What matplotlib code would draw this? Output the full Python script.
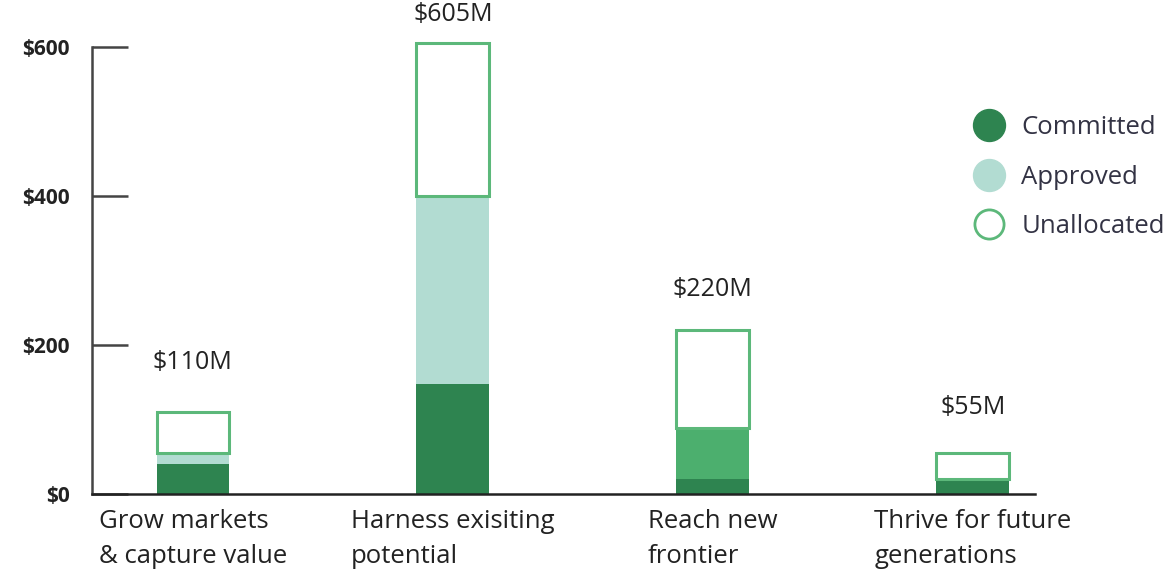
import matplotlib.pyplot as plt
from matplotlib.lines import Line2D

plt.rcParams['font.family'] = ['Open Sans', 'DejaVu Sans']

# values in $M
categories = ['Grow markets\n& capture value', 'Harness exisiting\npotential',
              'Reach new\nfrontier', 'Thrive for future\ngenerations']
committed = [40, 148, 20, 20]
approved = [15, 252, 68, 0]
totals = [110, 605, 220, 55]
total_labels = ['$110M', '$605M', '$220M', '$55M']
yticks = [0, 200, 400, 600]
ytick_labels = ['$0', '$200', '$400', '$600']

c_committed = '#2e8450'
c_approved = ['#b2dcd2', '#b2dcd2', '#4caf6e', '#b2dcd2']
c_edge = '#5cb87a'

fig = plt.figure(figsize=(11.71, 5.77), dpi=100)
ax = fig.add_axes([0.0786, 0.1438, 0.805, 0.827])

x = list(range(len(categories)))
w = 0.28
unalloc = [t - c - a for t, c, a in zip(totals, committed, approved)]
base2 = [c + a for c, a in zip(committed, approved)]

ax.bar(x, committed, width=w, color=c_committed, linewidth=0, zorder=2)
ax.bar(x, approved, width=w, bottom=committed, color=c_approved, linewidth=0, zorder=2)
ax.bar(x, unalloc, width=w, bottom=base2, facecolor='white', edgecolor=c_edge,
       linewidth=2.2, zorder=2)

pads = [50, 28, 40, 46]
for xi, t, lab, p in zip(x, totals, total_labels, pads):
    ax.annotate(lab, (xi, t), xytext=(0, p), textcoords='offset pixels',
                ha='center', va='center', fontsize=18, color='#222222')

ax.set_xlim(-0.388, 3.238)
ax.set_ylim(0, 640)
for s in ['top', 'right']:
    ax.spines[s].set_visible(False)
ax.spines['left'].set_bounds(0, 600)
ax.spines['left'].set_color('#444444')
ax.spines['left'].set_linewidth(1.8)
ax.spines['bottom'].set_color('#222222')
ax.spines['bottom'].set_linewidth(1.8)

ax.set_yticks(yticks)
ax.set_yticklabels(ytick_labels, fontsize=15, fontweight='bold', color='#222222')
ax.tick_params(axis='y', direction='in', length=26, width=1.8, color='#444444', pad=16)

ax.set_xticks(x)
ax.set_xticklabels(categories, fontsize=18.5, color='#222222', ha='center',
                   multialignment='left', linespacing=1.5)
ax.tick_params(axis='x', length=0, pad=11)

handles = [
    Line2D([], [], marker='o', linestyle='none', markersize=23,
           markerfacecolor=c_committed, markeredgecolor=c_committed),
    Line2D([], [], marker='o', linestyle='none', markersize=23,
           markerfacecolor='#b2dcd2', markeredgecolor='#b2dcd2'),
    Line2D([], [], marker='o', linestyle='none', markersize=21,
           markerfacecolor='white', markeredgecolor=c_edge, markeredgewidth=2),
]
fig.legend(handles, ['Committed', 'Approved', 'Unallocated'], loc='upper left',
           bbox_to_anchor=(0.803, 0.84), frameon=False, fontsize=18.5,
           labelspacing=0.95, handletextpad=0.25, labelcolor='#333344')

fig.savefig('out.png', dpi=100)
